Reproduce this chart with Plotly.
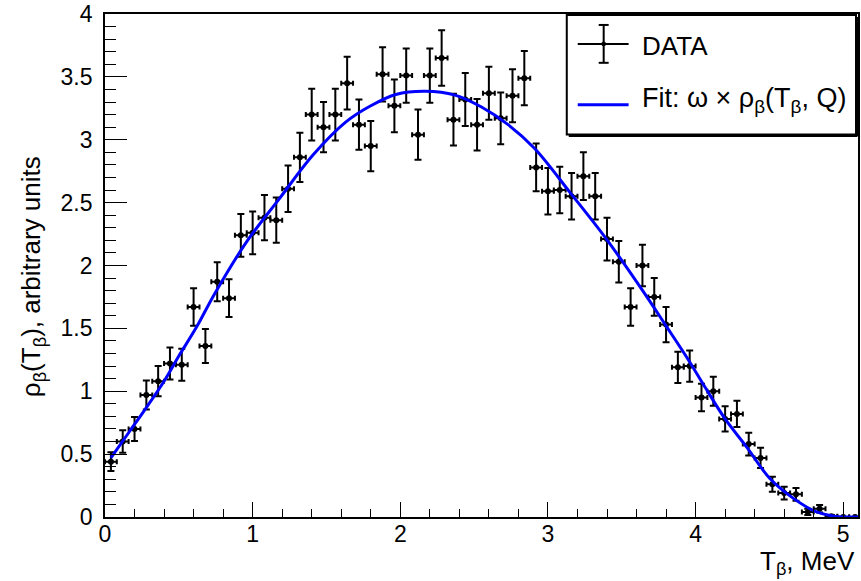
import plotly.graph_objects as go

# ---- data ----
t_centers = [0.04 + 0.08 * i for i in range(64)]  # bin centres, 0.08 MeV bins
data_vals = [0.44, 0.60, 0.70, 0.97, 1.08, 1.22, 1.21, 1.67, 1.36, 1.87,
             1.74, 2.24, 2.26, 2.38, 2.36, 2.61, 2.86, 3.20, 3.10, 3.20,
             3.45, 3.12, 2.95, 3.52, 3.27, 3.51, 3.04, 3.51, 3.65, 3.16,
             3.32, 3.12, 3.37, 3.17, 3.35, 3.49, 2.78, 2.59, 2.60, 2.55,
             2.71, 2.55, 2.21, 2.03, 1.67, 2.00, 1.75, 1.53, 1.19, 1.20,
             0.95, 1.00, 0.78, 0.82, 0.58, 0.47, 0.26, 0.19, 0.18, 0.04,
             0.065, 0.005, 0.0, 0.0]
data_errs = [0.075, 0.09, 0.095, 0.115, 0.12, 0.127, 0.127, 0.15, 0.135, 0.155,
             0.15, 0.17, 0.17, 0.18, 0.18, 0.185, 0.195, 0.205, 0.2, 0.205,
             0.21, 0.2, 0.2, 0.215, 0.21, 0.215, 0.2, 0.215, 0.22, 0.205,
             0.21, 0.205, 0.21, 0.205, 0.21, 0.215, 0.19, 0.185, 0.185, 0.185,
             0.19, 0.185, 0.17, 0.165, 0.15, 0.165, 0.15, 0.14, 0.125, 0.125,
             0.11, 0.115, 0.10, 0.105, 0.09, 0.08, 0.06, 0.05, 0.05, 0.025,
             0.03, 0.01, 0.0, 0.0]
half_bin = 0.04

fit_x = [0.04, 0.16, 0.28, 0.40, 0.50, 0.62, 0.74, 0.96, 1.18, 1.41, 1.63, 1.80,
         1.97, 2.17, 2.37, 2.55, 2.73, 2.91, 3.15, 3.39, 3.63, 3.80, 3.94, 4.06,
         4.20, 4.35, 4.50, 4.66, 4.82, 4.95, 5.10]
fit_y = [0.47, 0.67, 0.87, 1.08, 1.28, 1.51, 1.77, 2.19, 2.53, 2.88, 3.14, 3.27,
         3.36, 3.385, 3.355, 3.26, 3.12, 2.93, 2.58, 2.22, 1.82, 1.52, 1.27, 1.04,
         0.78, 0.55, 0.31, 0.15, 0.04, 0.005, 0.0]

x_ticks = [0, 1, 2, 3, 4, 5]
y_ticks = [0, 0.5, 1, 1.5, 2, 2.5, 3, 3.5, 4]

# ---- layout geometry (pixels) ----
W, H = 861, 581
L, R, T, B = 105, 1, 12, 64
PW, PH = W - L - R, H - T - B


def px(xp):
    return (xp - L) / PW


def py(yp):
    return (H - B - yp) / PH


FONT = "Liberation Sans, Arial, Helvetica, sans-serif"

fig = go.Figure()
fig.add_trace(go.Scatter(
    x=t_centers, y=data_vals, mode="markers",
    marker=dict(color="black", size=6, symbol="circle"),
    error_y=dict(type="data", array=data_errs, visible=True, color="black",
                 thickness=2, width=3.5),
    error_x=dict(type="constant", value=half_bin, visible=True, color="black",
                 thickness=2, width=2.5),
    showlegend=False, name="DATA"))
fig.add_trace(go.Scatter(
    x=fit_x, y=fit_y, mode="lines",
    line=dict(color="#0000ff", width=3, shape="spline", smoothing=1.0),
    showlegend=False, name="Fit"))

fig.update_xaxes(range=[0, 5.1], tickvals=x_ticks, ticks="inside", ticklen=15,
                 tickwidth=1.3, tickcolor="black", showline=True, linewidth=1.8,
                 linecolor="black", mirror=True, showgrid=False, zeroline=False,
                 tickfont=dict(family=FONT, size=23, color="black"),
                 minor=dict(dtick=0.2, ticks="inside", ticklen=8, tickwidth=1.3,
                            tickcolor="black", showgrid=False),
                 ticklabelstandoff=-5, ticklabeloverflow="allow")
fig.update_yaxes(range=[0, 4], tickvals=y_ticks, ticks="inside", ticklen=22,
                 tickwidth=1.3, tickcolor="black", showline=True, linewidth=1.8,
                 linecolor="black", mirror=True, showgrid=False, zeroline=False,
                 tickfont=dict(family=FONT, size=23, color="black"),
                 minor=dict(dtick=0.1, ticks="inside", ticklen=11, tickwidth=1.3,
                            tickcolor="black", showgrid=False),
                 ticklabelstandoff=6, ticklabeloverflow="allow")

shapes = []
# legend box
shapes.append(dict(type="rect", xref="paper", yref="paper",
                   x0=px(568), x1=px(858), y0=py(133), y1=py(13),
                   line=dict(color="black", width=2), fillcolor="white", layer="above"))
# shadow
shapes.append(dict(type="line", xref="paper", yref="paper",
                   x0=px(570), x1=px(859.5), y0=py(134.5), y1=py(134.5),
                   line=dict(color="black", width=2), layer="above"))
shapes.append(dict(type="line", xref="paper", yref="paper",
                   x0=px(859.5), x1=px(859.5), y0=py(15), y1=py(134.5),
                   line=dict(color="black", width=2), layer="above"))
# DATA symbol
shapes.append(dict(type="line", xref="paper", yref="paper",
                   x0=px(579), x1=px(630), y0=py(42), y1=py(42),
                   line=dict(color="black", width=2), layer="above"))
shapes.append(dict(type="line", xref="paper", yref="paper",
                   x0=px(605), x1=px(605), y0=py(23), y1=py(61),
                   line=dict(color="black", width=2), layer="above"))
for yy in (23, 61):
    shapes.append(dict(type="line", xref="paper", yref="paper",
                       x0=px(600), x1=px(610), y0=py(yy), y1=py(yy),
                       line=dict(color="black", width=2), layer="above"))
shapes.append(dict(type="circle", xref="paper", yref="paper",
                   x0=px(603), x1=px(607), y0=py(44), y1=py(40),
                   line=dict(color="black", width=1), fillcolor="black", layer="above"))
# Fit symbol
shapes.append(dict(type="line", xref="paper", yref="paper",
                   x0=px(579), x1=px(630), y0=py(103), y1=py(103),
                   line=dict(color="#0000ff", width=3), layer="above"))

annotations = [
    dict(text="DATA", xref="paper", yref="paper", x=px(641), y=py(44),
         xanchor="left", yanchor="middle", showarrow=False,
         font=dict(family=FONT, size=26, color="black")),
    dict(text="Fit: \u03c9 \u00d7 \u03c1<sub>\u03b2</sub>(T<sub>\u03b2</sub>, Q)",
         xref="paper", yref="paper", x=px(641), y=py(98),
         xanchor="left", yanchor="middle", showarrow=False,
         font=dict(family=FONT, size=27, color="black")),
    dict(text="T<sub>\u03b2</sub>, MeV", xref="paper", yref="paper",
         x=px(859), y=py(563), xanchor="right", yanchor="middle", showarrow=False,
         font=dict(family=FONT, size=26, color="black")),
    dict(text="\u03c1<sub>\u03b2</sub>(T<sub>\u03b2</sub>), arbitrary units",
         xref="paper", yref="paper", x=px(33), y=py(276), textangle=-90,
         xanchor="center", yanchor="middle", showarrow=False,
         font=dict(family=FONT, size=26, color="black")),
]

fig.update_layout(width=W, height=H, margin=dict(l=L, r=R, t=T, b=B),
                  paper_bgcolor="white", plot_bgcolor="white",
                  shapes=shapes, annotations=annotations, showlegend=False)

fig.write_html("out.html")
